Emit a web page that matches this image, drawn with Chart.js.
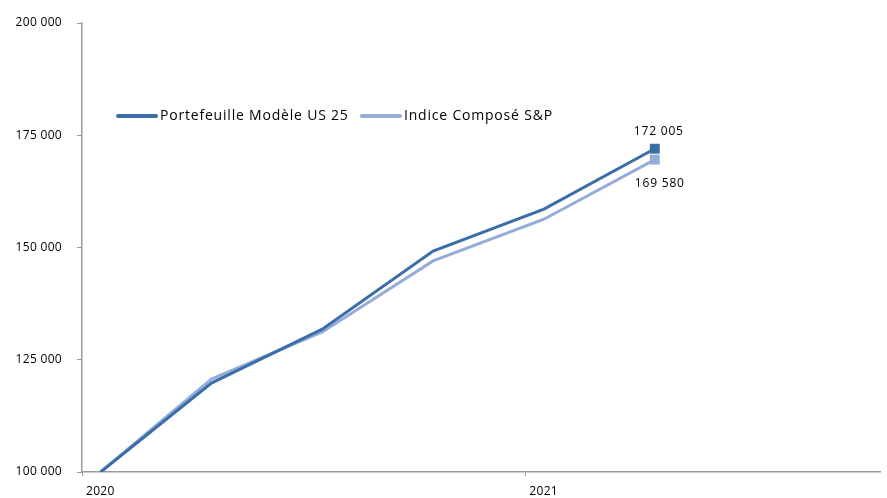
<!DOCTYPE html>
<html>
<head>
<meta charset="utf-8">
<script src="https://cdn.jsdelivr.net/npm/chart.js@4/dist/chart.umd.min.js"></script>
<style>
  html, body { margin: 0; padding: 0; background: #fff; }
  #wrap { width: 887px; height: 498px; }
</style>
</head>
<body>
<div id="wrap"><canvas id="perfChart"></canvas></div>
<script>
// positions in fractional years (mid-month, quarterly)
const dates = [2020.042, 2020.292, 2020.542, 2020.792, 2021.042, 2021.292];
const portfolio = [100000, 119800, 131800, 149200, 158550, 172005];
const sp = [100000, 120700, 131200, 147000, 156300, 169580];
const seriesNames = ['Portefeuille Modèle US 25', 'Indice Composé S&P'];
const yearTicks = [2020, 2021];
const yTicks = [100000, 125000, 150000, 175000, 200000];

const darkBlue = '#3b6ea8';
const lightBlue = '#93acd8';
const fontFam = "'Open Sans', 'Liberation Sans', sans-serif";

function fmt(v) {
    return String(Math.round(v)).replace(/\B(?=(\d{3})+(?!\d))/g, ' ');
}

function toPoints(vals) {
    return vals.map((v, i) => ({ x: dates[i], y: v }));
}

function lastOnly(color, n) {
    return (ctx) => ctx.dataIndex === n - 1 ? color : 'rgba(0,0,0,0)';
}

// slightly wider letter spacing, like the original's text
const spacing = {
    id: 'spacing',
    beforeInit(chart) { chart.ctx.letterSpacing = '0.3px'; },
    beforeDraw(chart) { chart.ctx.letterSpacing = '0.3px'; }
};

// legend drawn inside plot + value labels at last points
const overlay = {
    id: 'overlay',
    afterDatasetsDraw(chart) {
        let ctx = chart.ctx;
        ctx.save();
        ctx.textBaseline = 'middle';
        ctx.fillStyle = '#000';

        // legend
        ctx.font = '14px ' + fontFam;
        ctx.letterSpacing = '0.8px';
        let lx = [118, 362];
        let ly = 116;
        chart.data.datasets.forEach((ds, i) => {
            ctx.strokeStyle = ds.borderColor;
            ctx.lineWidth = 4;
            ctx.lineCap = 'round';
            ctx.beginPath();
            ctx.moveTo(lx[i], ly);
            ctx.lineTo(lx[i] + 38, ly);
            ctx.stroke();
            ctx.textAlign = 'left';
            ctx.fillText(ds.label, lx[i] + 42, ly);
        });

        // end labels
        ctx.font = '12px ' + fontFam;
        ctx.letterSpacing = '0.8px';
        ctx.textAlign = 'center';
        let m0 = chart.getDatasetMeta(0).data;
        let m1 = chart.getDatasetMeta(1).data;
        let p0 = m0[m0.length - 1];
        let p1 = m1[m1.length - 1];
        ctx.fillText(fmt(portfolio[portfolio.length - 1]), p0.x + 4, p0.y - 17);
        ctx.fillText(fmt(sp[sp.length - 1]), p1.x + 5, p1.y + 24);
        ctx.restore();
    }
};

new Chart(document.getElementById('perfChart'), {
    type: 'line',
    data: {
        datasets: [{
            label: seriesNames[0],
            data: toPoints(portfolio),
            borderColor: darkBlue,
            backgroundColor: darkBlue,
            borderWidth: 3,
            tension: 0,
            pointStyle: 'rect',
            pointRadius: 7,
            pointBorderWidth: 0,
            pointBackgroundColor: lastOnly(darkBlue, portfolio.length),
            pointBorderColor: 'rgba(0,0,0,0)',
            order: 1
        }, {
            label: seriesNames[1],
            data: toPoints(sp),
            borderColor: lightBlue,
            backgroundColor: lightBlue,
            borderWidth: 3,
            tension: 0,
            pointStyle: 'rect',
            pointRadius: 7,
            pointBorderWidth: 0,
            pointBackgroundColor: lastOnly(lightBlue, sp.length),
            pointBorderColor: 'rgba(0,0,0,0)',
            order: 2
        }]
    },
    options: {
        responsive: true,
        maintainAspectRatio: false,
        animation: false,
        layout: {
            padding: { top: 23, right: 0, bottom: 0, left: 0 }
        },
        plugins: {
            legend: { display: false },
            tooltip: { enabled: false }
        },
        scales: {
            x: {
                type: 'linear',
                min: 2020,
                max: 2021.80,
                afterBuildTicks: (axis) => {
                    axis.ticks = yearTicks.map(v => ({ value: v }));
                },
                afterFit: (axis) => { axis.height = 26; },
                border: { color: '#9a9a9a', width: 1.5 },
                grid: {
                    drawOnChartArea: false,
                    drawTicks: true,
                    tickLength: 4,
                    color: '#9a9a9a'
                },
                ticks: {
                    autoSkip: false,
                    maxRotation: 0,
                    align: 'start',
                    labelOffset: 4,
                    padding: 8,
                    color: '#000',
                    font: { family: fontFam, size: 12 },
                    callback: (v) => String(v)
                }
            },
            y: {
                min: 100000,
                max: 200000,
                afterBuildTicks: (axis) => {
                    axis.ticks = yTicks.map(v => ({ value: v }));
                },
                afterFit: (axis) => { axis.width = 82; },
                border: { color: '#9a9a9a', width: 1.5 },
                grid: {
                    drawOnChartArea: false,
                    drawTicks: true,
                    tickLength: 5,
                    color: '#9a9a9a'
                },
                ticks: {
                    padding: 15,
                    color: '#000',
                    font: { family: fontFam, size: 12 },
                    callback: (v) => fmt(v)
                }
            }
        }
    },
    plugins: [spacing, overlay]
});
</script>
</body>
</html>
